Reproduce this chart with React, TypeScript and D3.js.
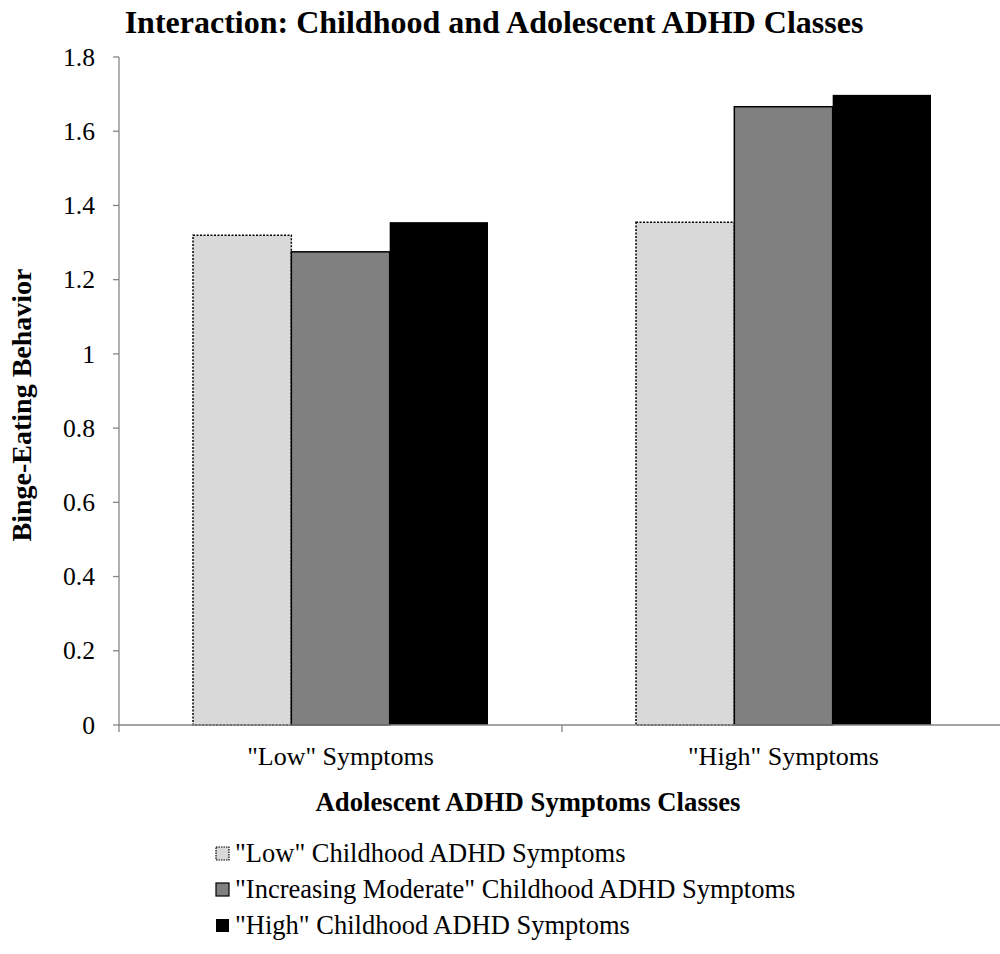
import React from "react";
import * as d3 from "d3";

const categories = ['"Low" Symptoms', '"High" Symptoms'];
const seriesNames = [
  '"Low" Childhood ADHD Symptoms',
  '"Increasing Moderate" Childhood ADHD Symptoms',
  '"High" Childhood ADHD Symptoms',
];
const lowChildhood = [1.32, 1.355];
const moderateChildhood = [1.275, 1.666];
const highChildhood = [1.355, 1.698];
const yTicks = [0, 0.2, 0.4, 0.6, 0.8, 1, 1.2, 1.4, 1.6, 1.8];

const seriesValues = [lowChildhood, moderateChildhood, highChildhood];
const seriesStyle = [
  { fill: "#d9d9d9", stroke: "#000", dash: "2,1.5", width: 1.5 },
  { fill: "#808080", stroke: "#000", dash: null, width: 1.5 },
  { fill: "#000000", stroke: "none", dash: null, width: 0 },
];

const W = 1000;
const H = 954;
const left = 119;
const right = 1005;
const top = 57;
const bottom = 725;
const font = "'Liberation Serif', 'Times New Roman', serif";

export default function App() {
  const x = d3.scaleBand<string>().domain(categories).range([left, right]).paddingInner(0).paddingOuter(0);
  const y = d3.scaleLinear().domain([0, 1.8]).range([bottom, top]);
  const groupW = x.bandwidth() * (295 / 443);
  const xs = d3
    .scaleBand<string>()
    .domain(seriesNames)
    .range([0, groupW])
    .padding(0);
  const axisColor = "#868686";

  return (
    <svg width={W} height={H} style={{ display: "block", position: "absolute", left: 0, top: 0 }}>
      <rect width={W} height={H} fill="#fff" />
      <text x={494} y={33} textAnchor="middle" fontFamily={font} fontWeight="bold" fontSize={32}>
        Interaction: Childhood and Adolescent ADHD Classes
      </text>

      {/* bars */}
      {categories.map((c, ci) => {
        const gx = (x(c) as number) + (x.bandwidth() - groupW) / 2;
        return seriesNames.map((s, si) => {
          const v = seriesValues[si][ci];
          const st = seriesStyle[si];
          const bx = gx + (xs(s) as number);
          return (
            <rect
              key={c + s}
              x={bx}
              y={y(v)}
              width={xs.bandwidth()}
              height={y(0) - y(v)}
              fill={st.fill}
              stroke={st.stroke}
              strokeWidth={st.width}
              strokeDasharray={st.dash ?? undefined}
            />
          );
        });
      })}

      {/* y axis */}
      <line x1={left} x2={left} y1={top} y2={bottom} stroke={axisColor} strokeWidth={1.3} />
      {yTicks.map((t) => (
        <g key={t}>
          <line x1={left - 6} x2={left} y1={y(t)} y2={y(t)} stroke={axisColor} strokeWidth={1.3} />
          <text x={95} y={y(t)} dy="0.34em" textAnchor="end" fontFamily={font} fontSize={25.6}>
            {d3.format("~g")(t)}
          </text>
        </g>
      ))}

      {/* x axis */}
      <line x1={left} x2={right} y1={bottom} y2={bottom} stroke={axisColor} strokeWidth={1.3} />
      {[left, ...categories.map((c) => (x(c) as number) + x.bandwidth())].map((t, i) => (
        <line key={i} x1={t} x2={t} y1={bottom} y2={bottom + 7} stroke={axisColor} strokeWidth={1.3} />
      ))}
      {categories.map((c) => (
        <text
          key={c}
          x={(x(c) as number) + x.bandwidth() / 2}
          y={765}
          textAnchor="middle"
          fontFamily={font}
          fontSize={26}
        >
          {c}
        </text>
      ))}
      <text x={528} y={811} textAnchor="middle" fontFamily={font} fontWeight="bold" fontSize={26.7}>
        Adolescent ADHD Symptoms Classes
      </text>
      <text
        transform={`translate(31,405) rotate(-90)`}
        textAnchor="middle"
        fontFamily={font}
        fontWeight="bold"
        fontSize={28}
      >
        Binge-Eating Behavior
      </text>

      {/* legend */}
      {seriesNames.map((s, i) => {
        const st = seriesStyle[i];
        const ry = 862 + i * 36;
        return (
          <g key={s}>
            <rect
              x={216}
              y={ry - 15}
              width={13}
              height={13}
              fill={st.fill}
              stroke={st.stroke === "none" ? "none" : "#000"}
              strokeWidth={st.width ? 1.2 : 0}
              strokeDasharray={st.dash ? "1.5,1" : undefined}
            />
            <text x={235} y={ry} fontFamily={font} fontSize={26.5}>
              {s}
            </text>
          </g>
        );
      })}
    </svg>
  );
}
